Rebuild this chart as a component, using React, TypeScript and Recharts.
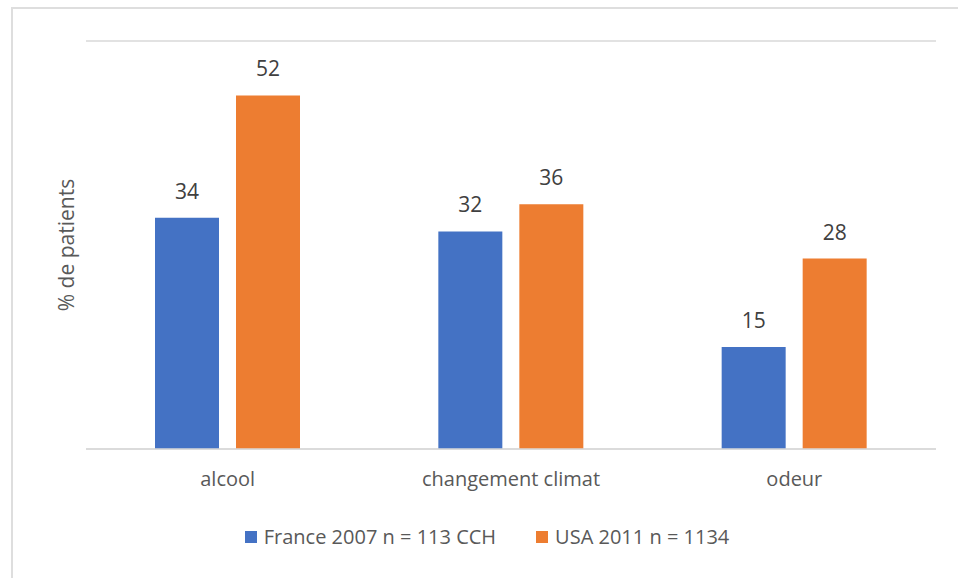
import { BarChart, Bar, XAxis, YAxis, CartesianGrid, LabelList } from "recharts";

const categories = ["alcool", "changement climat", "odeur"];
const france2007 = [34, 32, 15];
const usa2011 = [52, 36, 28];
const yTicks = [0, 10, 20, 30, 40, 50, 60];

const series = [
  { key: "france", name: "France 2007 n = 113 CCH", color: "#4472C4" },
  { key: "usa", name: "USA 2011 n = 1134", color: "#ED7D31" },
];

const data = categories.map((name, i) => ({
  name,
  france: france2007[i],
  usa: usa2011[i],
}));

const FONT = "'Open Sans', Lato, sans-serif";
const TEXT = "#595959";

export default function App() {
  return (
    <div style={{ position: "absolute", left: 0, top: 0, width: 958, height: 578, background: "#fff", overflow: "hidden" }}>
      <div style={{ position: "absolute", left: 11, top: 7, width: 1000, height: 1000, borderLeft: "2px solid #dedede", borderTop: "2px solid #dedede" }} />
      <div style={{ position: "absolute", left: 0, top: 0 }}>
        <BarChart
          width={958}
          height={578}
          data={data}
          margin={{ top: 41, right: 22, bottom: 89, left: 0 }}
          barSize={64}
          barGap={17}
        >
          <CartesianGrid vertical={false} stroke="#d9d9d9" strokeWidth={1.5} />
          <XAxis
            dataKey="name"
            height={40}
            axisLine={{ stroke: "#d9d9d9", strokeWidth: 1.5 }}
            tickLine={false}
            tickMargin={17}
            tick={{ fill: TEXT, fontSize: 20, fontFamily: FONT }}
          />
          <YAxis
            width={86}
            domain={[0, 60]}
            ticks={yTicks}
            tick={false}
            axisLine={false}
            tickLine={false}
            label={{
              value: "% de patients",
              angle: -90,
              position: "insideLeft",
              offset: 67,
              fill: TEXT,
              fontSize: 21,
              fontFamily: FONT,
              style: { textAnchor: "middle" },
            }}
          />
          <Bar dataKey="france" name={series[0].name} fill={series[0].color} isAnimationActive={false}>
            <LabelList dataKey="france" position="top" offset={19} fill="#404040" fontSize={21} fontFamily={FONT} />
          </Bar>
          <Bar dataKey="usa" name={series[1].name} fill={series[1].color} isAnimationActive={false}>
            <LabelList dataKey="usa" position="top" offset={19} fill="#404040" fontSize={21} fontFamily={FONT} />
          </Bar>
        </BarChart>
      </div>
      <div
        style={{
          position: "absolute",
          left: 0,
          top: 524,
          width: 958,
          display: "flex",
          justifyContent: "center",
          paddingLeft: 16,
          boxSizing: "border-box",
          fontFamily: FONT,
          fontSize: 20,
          color: TEXT,
          lineHeight: "26px",
        }}
      >
        {series.map((s, i) => (
          <div key={s.key} style={{ display: "flex", alignItems: "center", marginRight: i === 0 ? 40 : 0 }}>
            <span style={{ width: 12, height: 12, background: s.color, display: "inline-block", marginRight: 7 }} />
            <span>{s.name}</span>
          </div>
        ))}
      </div>
    </div>
  );
}
